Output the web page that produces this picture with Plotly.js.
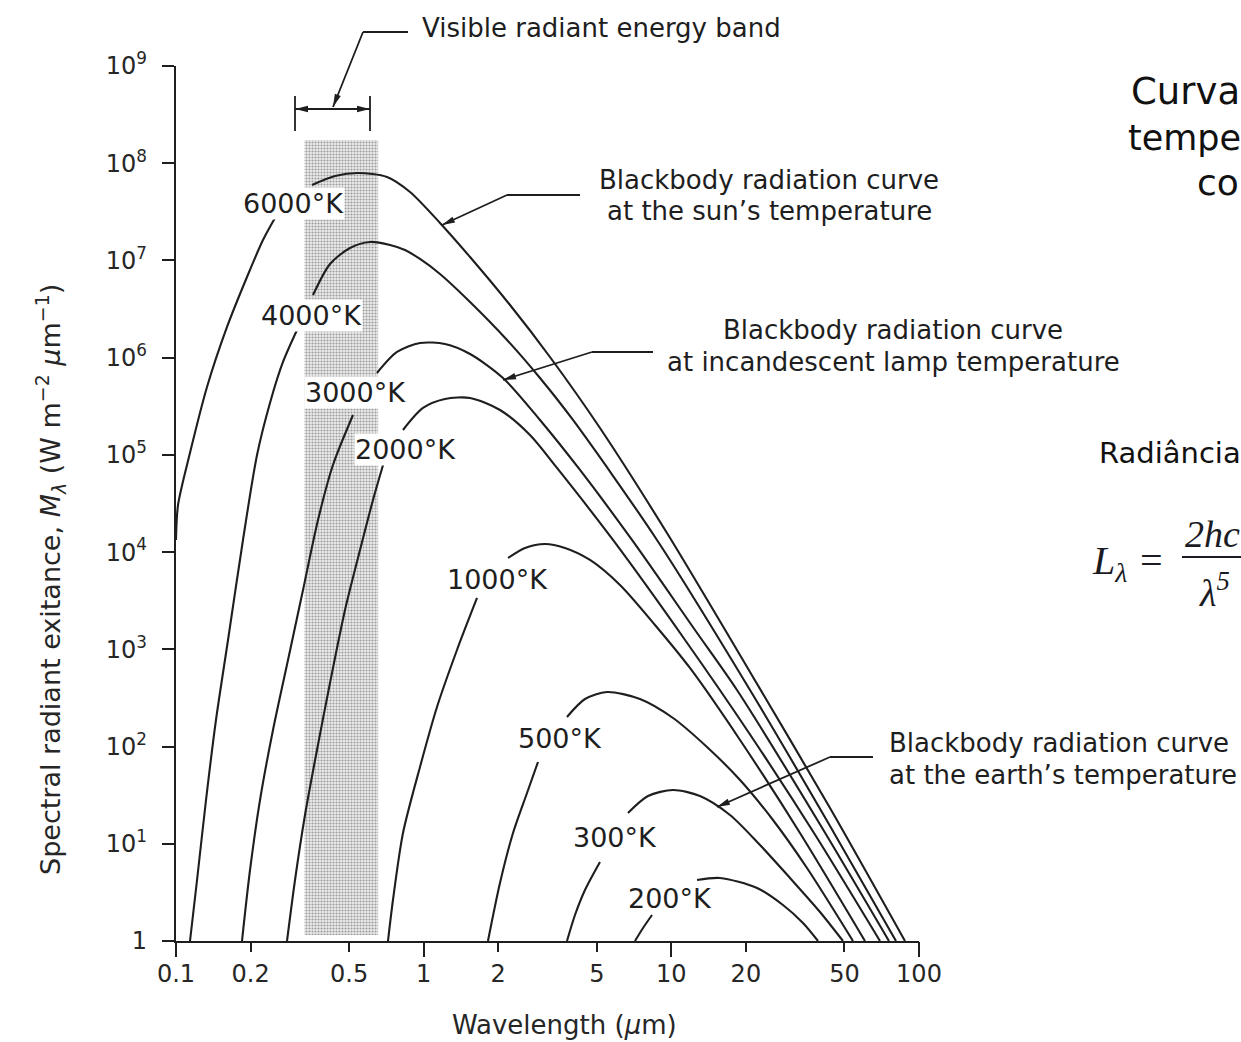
<!DOCTYPE html>
<html>
<head>
<meta charset="utf-8">
<script src="https://cdn.plot.ly/plotly-3.0.1.min.js"></script>
<style>
html,body{margin:0;padding:0;background:#fff;}
#chart{width:1241px;height:1042px;}
</style>
</head>
<body>
<div id="chart"></div>
<script>
// ---------------- data (wavelength in µm, spectral radiant exitance in W m^-2 µm^-1) ----------------
const xTickVals = [0.1, 0.2, 0.5, 1, 2, 5, 10, 20, 50, 100];
const xTickText = ['0.1', '0.2', '0.5', '1', '2', '5', '10', '20', '50', '100'];
const xDecades = [0.1, 1, 10, 100];
const yTickVals = [1, 1e1, 1e2, 1e3, 1e4, 1e5, 1e6, 1e7, 1e8, 1e9];
const yTickText = ['1', '10<sup>1</sup>', '10<sup>2</sup>', '10<sup>3</sup>', '10<sup>4</sup>',
                   '10<sup>5</sup>', '10<sup>6</sup>', '10<sup>7</sup>', '10<sup>8</sup>', '10<sup>9</sup>'];

const visibleBandWl = [0.33, 0.655];
const visibleBandM = [1.15, 1.73e8];

// 6000 K
const wl6000Lo = [0.1, 0.1019, 0.1139, 0.1334, 0.1607, 0.1935, 0.2245, 0.2510];
const m6000Lo  = [1.33e4, 3.05e4, 1.05e5, 4.99e5, 2.07e6, 6.76e6, 1.62e7, 2.73e7];
const wl6000Hi = [0.3541, 0.4385, 0.5431, 0.7111, 0.8808, 1.164, 1.539, 2.232, 3.236, 5.151, 9.604, 20.78, 43.72, 87.78];
const m6000Hi  = [5.97e7, 7.39e7, 7.94e7, 7.22e7, 5.06e7, 2.43e7, 1.085e7, 3.48e6, 1.016e6, 1.89e5, 1.57e4, 584.7, 23.33, 1];
// 4000 K
const wl4000Lo = [0.1139, 0.1216, 0.1322, 0.1450, 0.1622, 0.1864, 0.2124, 0.2396, 0.2704, 0.3081];
const m4000Lo  = [1, 4.241, 28.2, 187.6, 1248, 1.333e4, 9.98e4, 3.419e5, 9.03e5, 1.926e6];
const wl4000Hi = [0.3574, 0.4186, 0.5042, 0.6071, 0.7313, 0.8407, 0.9664, 1.164, 1.539, 2.171, 2.949, 4.008, 8.751, 20.78, 43.72, 80.74];
const m4000Hi  = [4.41e6, 9.20e6, 1.344e7, 1.549e7, 1.443e7, 1.281e7, 1.035e7, 7.26e6, 3.74e6, 1.52e6, 6.18e5, 2.286e5, 1.333e4, 381.7, 15.24, 1];
// 3000 K
const wl3000Lo = [0.1847, 0.1990, 0.2184, 0.2464, 0.2833, 0.3257, 0.3744, 0.4303, 0.5184];
const m3000Lo  = [1, 5.374, 28.2, 148.1, 777, 4077, 2.14e4, 7.87e4, 2.573e5];
const wl3000Hi = [0.6478, 0.7804, 0.9664, 1.219, 1.539, 2.091, 2.949, 4.278, 6.937, 12.46, 18.41, 40.2, 75.63];
const m3000Hi  = [6.96e5, 1.144e6, 1.416e6, 1.382e6, 1.091e6, 6.18e5, 2.286e5, 6.995e4, 1.333e4, 1580, 381.7, 15.24, 1];
// 2000 K
const wl2000Lo = [0.2807, 0.3024, 0.3318, 0.3709, 0.4186, 0.4813, 0.5534, 0.6243, 0.6854];
const m2000Lo  = [1, 4.241, 19.77, 92.18, 450.6, 2539, 1.051e4, 3.437e4, 7.87e4];
const wl2000Hi = [0.8252, 0.9938, 1.219, 1.539, 2.033, 2.687, 3.454, 5.814, 11.36, 20.59, 37.67, 69.58];
const m2000Hi  = [1.804e5, 3.037e5, 3.758e5, 3.848e5, 2.897e5, 1.602e5, 7.335e4, 1.333e4, 1248, 137.9, 12.91, 1];
// 1000 K
const wl1000Lo = [0.7177, 0.7517, 0.8252, 0.9664, 1.132, 1.363, 1.642];
const m1000Lo  = [1, 2.641, 12.91, 61.63, 255.3, 984.5, 3374];
const wl1000Hi = [2.191, 2.566, 3.090, 3.721, 4.695, 6.204, 8.590, 11.89, 18.94, 33.07, 60.52];
const m1000Hi  = [8698, 1.103e4, 1.212e4, 1.103e4, 8299, 4589, 1780, 642.9, 116.8, 12.91, 1];
// 500 K
const wl500Lo = [1.818, 2.033, 2.295, 2.614, 2.895];
const m500Lo  = [1, 3.951, 12.91, 33.3, 69.38];
const wl500Hi = [3.790, 4.481, 5.499, 7.470, 10.16, 13.93, 18.94, 25.73, 35.30, 54.14];
const m500Hi  = [201.4, 308.4, 364.0, 308.4, 196.7, 98.97, 45.29, 17.56, 5.636, 1];
// 300 K
const wl300Lo = [3.790, 4.083, 4.481, 5.151];
const m300Lo  = [1, 1.851, 3.346, 6.496];
const wl300Hi = [6.683, 8.050, 10.16, 13.05, 17.25, 22.80, 30.14, 39.83, 49.33];
const m300Hi  = [20.73, 31.0, 35.75, 31.0, 19.77, 9.715, 4.446, 1.988, 1];
// 200 K
const wl200Lo = [7.133, 7.685, 8.356];
const m200Lo  = [1, 1.361, 1.851];
const wl200Hi = [12.70, 15.72, 22.18, 28.23, 34.01, 39.10];
const m200Hi  = [4.241, 4.446, 3.509, 2.346, 1.531, 1];

const curveNames = ['6000°K', '4000°K', '3000°K', '2000°K', '1000°K', '500°K', '300°K', '200°K'];
const curveSegs = [
  [wl6000Lo, m6000Lo, wl6000Hi, m6000Hi],
  [wl4000Lo, m4000Lo, wl4000Hi, m4000Hi],
  [wl3000Lo, m3000Lo, wl3000Hi, m3000Hi],
  [wl2000Lo, m2000Lo, wl2000Hi, m2000Hi],
  [wl1000Lo, m1000Lo, wl1000Hi, m1000Hi],
  [wl500Lo, m500Lo, wl500Hi, m500Hi],
  [wl300Lo, m300Lo, wl300Hi, m300Hi],
  [wl200Lo, m200Lo, wl200Hi, m200Hi]
];

// ---------------- traces ----------------
const ink = '#1e1e1e';
const traces = [];
traces.push({
  x: [visibleBandWl[0], visibleBandWl[1], visibleBandWl[1], visibleBandWl[0], visibleBandWl[0]],
  y: [visibleBandM[0], visibleBandM[0], visibleBandM[1], visibleBandM[1], visibleBandM[0]],
  mode: 'lines', fill: 'toself', line: {width: 0},
  fillcolor: '#e2e2e2',
  fillpattern: {shape: '.', size: 3, solidity: 0.4, fgcolor: '#9c9c9c', bgcolor: '#ececec'},
  hoverinfo: 'skip', showlegend: false
});
curveSegs.forEach((s, i) => {
  traces.push({
    name: curveNames[i],
    x: s[0].concat([null], s[2]),
    y: s[1].concat([null], s[3]),
    mode: 'lines', connectgaps: false,
    line: {color: ink, width: 2.1, shape: 'spline', smoothing: 0.8},
    hoverinfo: 'skip', showlegend: false
  });
});
// carrier for the overlay axis that draws the longer decade ticks
traces.push({x: [xDecades[0]], y: [yTickVals[0]], xaxis: 'x2', mode: 'markers',
             marker: {opacity: 0}, hoverinfo: 'skip', showlegend: false});

// ---------------- layout helpers (figure pixel frame -> paper) ----------------
const PL = 176, PT = 66, PW = 743, PH = 875;
const PX = px => (px - PL) / PW;
const PY = py => (PT + PH - py) / PH;
const F = 'DejaVu Sans';
const ann = [];
const shapes = [];

const text = (t, px, py, size, opts) => ann.push(Object.assign({
  xref: 'paper', yref: 'paper', x: PX(px), y: PY(py), text: t, showarrow: false,
  font: {family: F, size: size, color: ink}, xanchor: 'center', yanchor: 'middle'
}, opts || {}));

const line = (x0, y0, x1, y1, w) => shapes.push({
  type: 'line', xref: 'paper', yref: 'paper', x0: PX(x0), y0: PY(y0), x1: PX(x1), y1: PY(y1),
  line: {color: ink, width: w || 1.8}
});
const head = (tx, ty, fx, fy) => {           // arrow head at (tx,ty) coming from (fx,fy)
  const dx = tx - fx, dy = ty - fy, L = Math.hypot(dx, dy), ux = dx / L, uy = dy / L;
  const len = 13, hw = 3.2, bx = tx - ux * len, by = ty - uy * len;
  const p = [[tx, ty], [bx - uy * hw, by + ux * hw], [bx + uy * hw, by - ux * hw]];
  shapes.push({type: 'path', xref: 'paper', yref: 'paper',
    path: 'M' + p.map(q => PX(q[0]) + ',' + PY(q[1])).join(' L') + ' Z',
    fillcolor: ink, line: {width: 0}});
};

// curve labels
const labelOpts = (white) => ({font: {family: F, size: 27, color: ink},
                               bgcolor: white ? '#ffffff' : 'rgba(0,0,0,0)', borderpad: 0});
text(curveNames[0], 293, 203, 27, labelOpts(true));
text(curveNames[1], 311, 315, 27, labelOpts(true));
text(curveNames[2], 355, 393, 27, labelOpts(true));
text(curveNames[3], 405, 449, 27, labelOpts(true));
text(curveNames[4], 497, 579, 27, labelOpts(false));
text(curveNames[5], 560, 738, 27, labelOpts(false));
text(curveNames[6], 615, 837, 27, labelOpts(false));
text(curveNames[7], 670, 898, 27, labelOpts(false));

// callouts
text('Visible radiant energy band', 420, 28, 26, {xanchor: 'left'});
line(363, 32, 408, 32); line(363, 32, 333, 107); head(333, 107, 363, 32);
line(295, 109, 370, 109); head(295, 109, 333, 109); head(370, 109, 333, 109);
line(295, 96, 295, 131); line(370, 96, 370, 131);

text('Blackbody radiation curve', 769, 180, 26);
text('at the sun’s temperature', 769, 211, 26);
line(507, 195, 580, 195); line(507, 195, 442, 225); head(442, 225, 507, 195);

text('Blackbody radiation curve', 893, 330, 26);
text('at incandescent lamp temperature', 893, 362, 26);
line(592, 352, 653, 352); line(592, 352, 503, 380); head(503, 380, 592, 352);

text('Blackbody radiation curve', 887, 743, 26, {xanchor: 'left'});
text('at the earth’s temperature', 887, 775, 26, {xanchor: 'left'});
line(830, 757, 873, 757); line(830, 757, 717, 807); head(717, 807, 830, 757);

// axis titles
text('Wavelength (<i>µ</i>m)', 564, 1025, 26, {font: {family: F, size: 26, color: '#262626'}});
text('Spectral radiant exitance, <i>M</i><sub><i>λ</i></sub> (W m<sup>−2</sup> <i>µ</i>m<sup>−1</sup>)',
     50, 580, 27, {textangle: -90, font: {family: F, size: 27, color: '#262626'}});

// right-hand text fragments (cut by the picture edge in the original)
const dark = (s) => ({font: {family: F, size: s, color: '#111'}, xanchor: 'left'});
text('Curva', 1129, 92, 37, dark(37));
text('tempe', 1126, 138, 35, dark(35));
text('co', 1195, 183, 36, dark(36));
text('Radiância', 1097, 453, 29, dark(29));
const mathF = (s) => ({font: {family: 'Liberation Serif', size: s, color: '#1b1b24', style: 'italic'}, xanchor: 'left'});
text('L<sub>λ</sub> =', 1090, 563, 40, mathF(40));
text('2hc', 1183, 534, 38, mathF(38));
text('λ<sup>5</sup>', 1197, 590, 38, mathF(38));
shapes.push({type: 'line', xref: 'paper', yref: 'paper', x0: PX(1182), x1: PX(1241), y0: PY(557), y1: PY(557),
             line: {color: '#1b1b24', width: 2}});

const layout = {
  width: 1241, height: 1042,
  margin: {l: PL, r: 1241 - PL - PW, t: PT, b: 1042 - PT - PH, pad: 0},
  paper_bgcolor: '#ffffff', plot_bgcolor: '#ffffff',
  showlegend: false, hovermode: false,
  font: {family: F, color: ink},
  xaxis: {
    type: 'log', range: [-1, 2], tickvals: xTickVals, ticktext: xTickText,
    ticks: 'outside', ticklen: 9, tickwidth: 2, tickcolor: ink, ticklabelstandoff: 1,
    showline: true, linecolor: ink, linewidth: 2.2, showgrid: false, zeroline: false,
    tickfont: {family: F, size: 24, color: '#262626'}, automargin: false
  },
  xaxis2: {
    type: 'log', range: [-1, 2], overlaying: 'x', anchor: 'y', side: 'bottom',
    tickvals: xDecades, ticks: 'outside', ticklen: 15, tickwidth: 2, tickcolor: ink,
    showticklabels: false, showline: false, showgrid: false, zeroline: false, automargin: false
  },
  yaxis: {
    type: 'log', range: [0, 9], tickvals: yTickVals, ticktext: yTickText,
    ticks: 'outside', ticklen: 12, tickwidth: 2, tickcolor: ink, ticklabelstandoff: 10,
    showline: true, linecolor: ink, linewidth: 2.2, showgrid: false, zeroline: false,
    tickfont: {family: F, size: 24, color: '#262626'}, automargin: false
  },
  shapes: shapes,
  annotations: ann
};

Plotly.newPlot('chart', traces, layout, {staticPlot: true, displayModeBar: false});
</script>
</body>
</html>
